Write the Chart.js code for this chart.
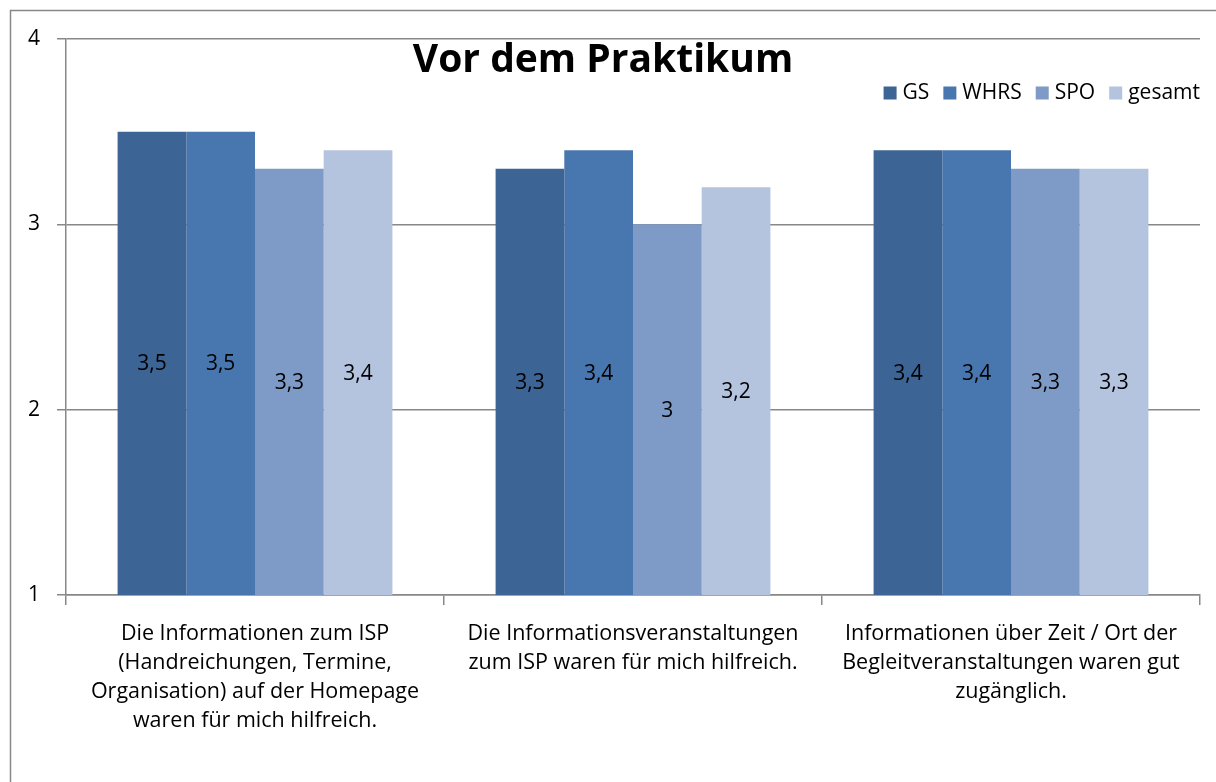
<!DOCTYPE html>
<html>
<head>
<meta charset="utf-8">
<script src="https://cdn.jsdelivr.net/npm/chart.js@4/dist/chart.umd.min.js"></script>
<style>
  html, body { margin: 0; padding: 0; background: #fff; }
  #wrap { width: 1216px; height: 782px; }
</style>
</head>
<body>
<div id="wrap"><canvas id="chartCanvas" width="1216" height="782"></canvas></div>
<script>
const categories = [
  ['Die Informationen zum ISP', '(Handreichungen, Termine,', 'Organisation) auf der Homepage', 'waren für mich hilfreich.'],
  ['Die Informationsveranstaltungen', 'zum ISP waren für mich hilfreich.'],
  ['Informationen über Zeit / Ort der', 'Begleitveranstaltungen waren gut', 'zugänglich.']
];
const seriesNames = ['GS', 'WHRS', 'SPO', 'gesamt'];
const gs = [3.5, 3.3, 3.4];
const whrs = [3.5, 3.4, 3.4];
const spo = [3.3, 3.0, 3.3];
const gesamt = [3.4, 3.2, 3.3];
const yTicks = [1, 2, 3, 4];
const colors = ['#3C6494', '#4876AE', '#7E9AC6', '#B4C3DE'];
const titleText = 'Vor dem Praktikum';

const FONT = '"Open Sans", Lato, sans-serif';

// outer frame, title, legend and value labels
const extras = {
  id: 'extras',
  beforeDraw(chart) {
    const c = chart.ctx;
    c.save();
    c.strokeStyle = '#888';
    c.lineWidth = 1.5;
    c.strokeRect(10.5, 10.5, 1300, 900);
    c.restore();
  },
  afterDatasetsDraw(chart) {
    const c = chart.ctx;
    const yBase = chart.scales.y.getPixelForValue(chart.scales.y.min);
    c.save();
    c.fillStyle = '#000';
    c.font = '21px ' + FONT;
    c.textAlign = 'center';
    c.textBaseline = 'middle';
    chart.data.datasets.forEach((ds, i) => {
      chart.getDatasetMeta(i).data.forEach((bar, j) => {
        const label = String(ds.data[j]).replace('.', ',');
        c.fillText(label, bar.x, (bar.y + yBase) / 2 + 1);
      });
    });

    // title
    c.font = 'bold 39px ' + FONT;
    c.fillText(titleText, 603, 61);

    // legend, right aligned
    c.font = '21px ' + FONT;
    c.textAlign = 'left';
    const box = 13, gap = 6, spacing = 14;
    let widths = seriesNames.map(n => box + gap + c.measureText(n).width);
    let total = widths.reduce((a, b) => a + b, 0) + spacing * (widths.length - 1);
    let x = 1200 - total;
    const cy = 93;
    seriesNames.forEach((n, i) => {
      c.fillStyle = colors[i];
      c.fillRect(x, cy - box / 2, box, box);
      c.fillStyle = '#000';
      c.fillText(n, x + box + gap, cy);
      x += widths[i] + spacing;
    });
    c.restore();
  }
};

new Chart(document.getElementById('chartCanvas').getContext('2d'), {
  type: 'bar',
  data: {
    labels: categories,
    datasets: [gs, whrs, spo, gesamt].map((d, i) => ({
      label: seriesNames[i],
      data: d,
      backgroundColor: colors[i],
      borderWidth: 0,
      categoryPercentage: 0.727,
      barPercentage: 1.0
    }))
  },
  options: {
    responsive: false,
    animation: false,
    layout: { padding: { top: 39, right: 16, left: 0, bottom: 0 } },
    plugins: {
      legend: { display: false },
      title: { display: false },
      tooltip: { enabled: false }
    },
    scales: {
      x: {
        grid: { drawOnChartArea: false, drawTicks: true, tickLength: 10, color: '#888', lineWidth: 1.5 },
        border: { color: '#888', width: 1.5 },
        ticks: {
          color: '#000',
          font: { family: FONT, size: 21.5, lineHeight: 1.36 },
          maxRotation: 0,
          autoSkip: false,
          padding: 14
        },
        afterFit(scale) { scale.height = 187; }
      },
      y: {
        min: 1,
        max: 4,
        afterBuildTicks(scale) { scale.ticks = yTicks.map(v => ({ value: v })); },
        grid: { color: '#888', lineWidth: 1.5, tickLength: 9 },
        border: { color: '#888', width: 1.5 },
        ticks: {
          color: '#000',
          font: { family: FONT, size: 21 },
          padding: 17
        },
        afterFit(scale) { scale.width = 66; }
      }
    }
  },
  plugins: [extras]
});
</script>
</body>
</html>
